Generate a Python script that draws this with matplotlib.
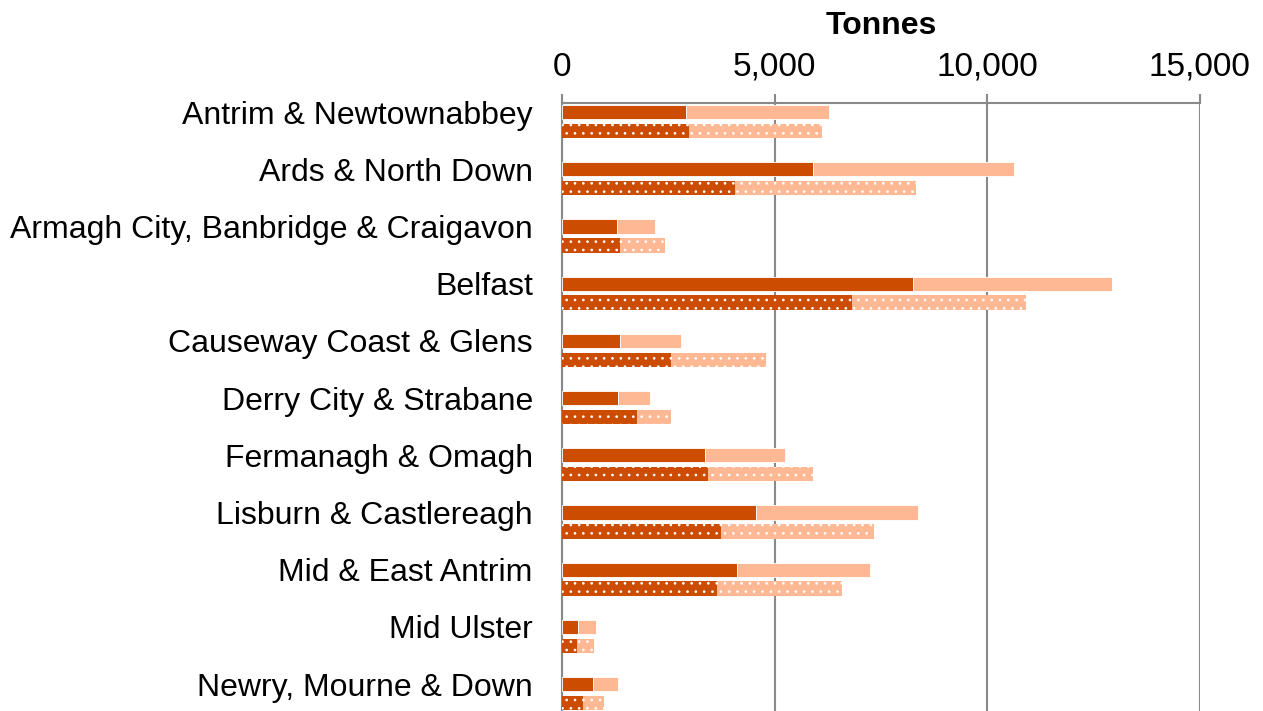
import numpy as np
import matplotlib.pyplot as plt

plt.rcParams['font.family'] = ['Liberation Sans', 'DejaVu Sans']
plt.rcParams['hatch.linewidth'] = 0.7

councils = ["Antrim & Newtownabbey", "Ards & North Down",
            "Armagh City, Banbridge & Craigavon", "Belfast",
            "Causeway Coast & Glens", "Derry City & Strabane",
            "Fermanagh & Omagh", "Lisburn & Castlereagh",
            "Mid & East Antrim", "Mid Ulster", "Newry, Mourne & Down"]

# solid bars (first series) - dark part and total
solid_dark = [2910, 5900, 1290, 8260, 1360, 1320, 3360, 4560, 4110, 380, 730]
solid_total = [6270, 10640, 2180, 12940, 2800, 2070, 5240, 8360, 7240, 800, 1320]
# dotted bars (second series)
dot_dark = [2980, 4060, 1360, 6820, 2560, 1760, 3430, 3730, 3640, 350, 490]
dot_total = [6110, 8320, 2420, 10900, 4790, 2560, 5900, 7330, 6580, 750, 990]

dark = "#CC4C02"
light = "#FFB894"
grid_c = "#898989"

solid_light = np.array(solid_total) - np.array(solid_dark)
dot_light = np.array(dot_total) - np.array(dot_dark)

fig = plt.figure(figsize=(12.63, 7.11), dpi=100)
ax = fig.add_axes([0.445, 0.0, 0.505, 0.855])

y = np.arange(len(councils))
h = 0.25
off = 0.33

ax.barh(y, solid_dark, height=h, color=dark, edgecolor="white", linewidth=0.6, zorder=3)
ax.barh(y, solid_light, left=solid_dark, height=h, color=light, edgecolor="white", linewidth=0.6, zorder=3)
ax.barh(y + off, dot_dark, height=h, color=dark, edgecolor="white", linewidth=0, hatch="..", zorder=3)
ax.barh(y + off, dot_light, left=dot_dark, height=h, color=light, edgecolor="white", linewidth=0, hatch="..", zorder=3)

ax.set_xlim(0, 15000)
ax.set_ylim(10.47, -0.157)
ax.xaxis.tick_top()
ax.set_xticks([0, 5000, 10000, 15000])
ax.set_xticklabels(["0", "5,000", "10,000", "15,000"], fontsize=24)
ax.tick_params(axis="x", length=6.5, width=1.5, color=grid_c, pad=8)
ax.set_yticks(y)
ax.set_yticklabels(councils, fontsize=23)
ax.tick_params(axis="y", length=0, pad=21)

ax.grid(axis="x", color=grid_c, linewidth=1.5, zorder=0)
for s in ["right", "bottom"]:
    ax.spines[s].set_visible(False)
ax.spines["top"].set_color(grid_c)
ax.spines["top"].set_linewidth(1.5)
ax.spines["left"].set_color(grid_c)
ax.spines["left"].set_linewidth(1.5)

ax.set_title("Tonnes", fontsize=23, fontweight="bold", pad=50)

fig.savefig("out.png", dpi=100)
